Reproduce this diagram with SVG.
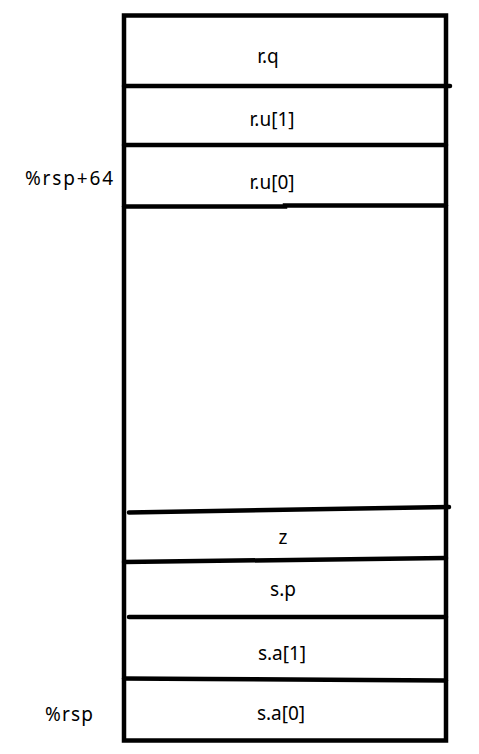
<svg xmlns="http://www.w3.org/2000/svg" width="479" height="754" viewBox="0 0 479 754">
<style>
.ln{stroke:#000;stroke-width:4.5;fill:none;stroke-linecap:round}
.t{font-family:"Noto Sans","Liberation Sans",sans-serif;font-size:19px;fill:#000;text-anchor:middle}
.l{font-family:"Noto Sans","Liberation Sans",sans-serif;font-size:19px;fill:#000}
</style>
<rect width="479" height="754" fill="#fff"/>
<g id="frame">
<rect x="124" y="15.5" width="322" height="725" class="ln" style="stroke-linecap:butt"/>
</g>
<g id="connectors">
<line x1="124" y1="86" x2="450" y2="86" class="ln"/>
<line x1="124" y1="145" x2="446" y2="145" class="ln"/>
<path d="M124 206.5 L285 206.5 L285 205.5 L446 205.5" class="ln"/>
<line x1="129" y1="512.5" x2="449" y2="507" class="ln"/>
<line x1="124" y1="562" x2="446" y2="558" class="ln"/>
<line x1="129" y1="617" x2="446" y2="617" class="ln"/>
<path d="M124 678.5 L205 679 L365 680 L446 680.5" class="ln"/>
</g>
<g id="rq"><text x="268" y="63" class="t">r.q</text></g>
<g id="ru1"><text x="272" y="126" class="t">r.u[1]</text></g>
<g id="ru0"><text x="272" y="189" class="t">r.u[0]</text></g>
<g id="rsp64"><text x="25" y="185" class="l" textLength="88">%rsp+64</text></g>
<g id="z"><text x="283" y="544" class="t">z</text></g>
<g id="sp"><text x="283" y="596" class="t">s.p</text></g>
<g id="sa1"><text x="282" y="660" class="t">s.a[1]</text></g>
<g id="sa0"><text x="281" y="720" class="t">s.a[0]</text></g>
<g id="rsp"><text x="45" y="721" class="l" textLength="48">%rsp</text></g>
</svg>
